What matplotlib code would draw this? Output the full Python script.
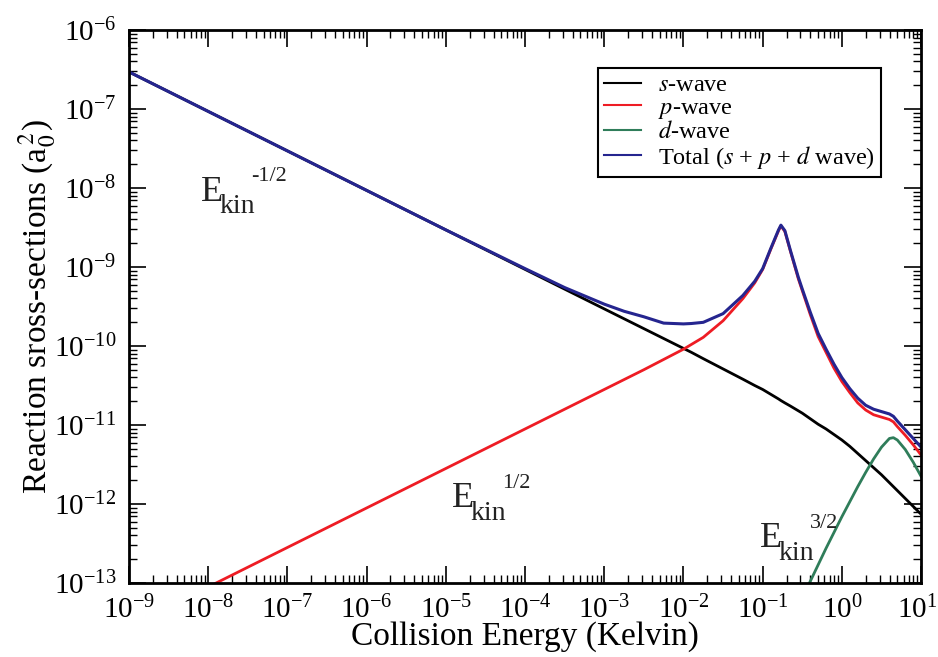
import numpy as np
import matplotlib
matplotlib.use("Agg")
import matplotlib.pyplot as plt
import matplotlib.transforms as mtransforms
from matplotlib.ticker import LogLocator, NullFormatter

plt.rcParams['font.family'] = ['Liberation Serif', 'DejaVu Serif']
plt.rcParams['mathtext.fontset'] = 'stix'
plt.rcParams['axes.unicode_minus'] = False

# ----- DATA (log10 values) -----

log_energy = [-9, -8, -7, -6, -5, -4, -3.5, -3, -2.75, -2.5, -2.25, -2, -1.9, -1.75, -1.5,
              -1.25, -1.1, -1.0, -0.9, -0.8, -0.77, -0.72, -0.65, -0.55, -0.5, -0.4, -0.3,
              -0.2, -0.1, 0, 0.1, 0.2, 0.3, 0.4, 0.5, 0.6, 0.65, 0.7, 0.8, 0.9, 1.0]

log_s_wave = [-6.53, -7.03, -7.53, -8.03, -8.53, -9.03, -9.28, -9.53, -9.655, -9.78, -9.905,
              -10.03, -10.08, -10.16, -10.29, -10.42, -10.50, -10.55, -10.61, -10.67, -10.69,
              -10.72, -10.76, -10.82, -10.85, -10.92, -10.99, -11.05, -11.12, -11.19, -11.27,
              -11.36, -11.45, -11.54, -11.63, -11.73, -11.78, -11.83, -11.93, -12.03, -12.13]

log_p_wave = [-13.55, -13.05, -12.55, -12.05, -11.55, -11.05, -10.80, -10.55, -10.425, -10.30,
              -10.17, -10.04, -9.98, -9.89, -9.68, -9.40, -9.20, -9.03, -8.78, -8.54, -8.48,
              -8.55, -8.80, -9.15, -9.30, -9.60, -9.88, -10.08, -10.28, -10.45, -10.59,
              -10.72, -10.81, -10.87, -10.90, -10.93, -10.96, -11.02, -11.13, -11.25, -11.38]

nan = np.nan
log_d_wave = [nan] * 23 + [-13.28, -13.18, -12.98, -12.77, -12.56, -12.36, -12.16, -11.97,
                            -11.78, -11.60, -11.43, -11.28, -11.17, -11.16, -11.19, -11.31,
                            -11.47, -11.65]

log_total = [-6.53, -7.03, -7.53, -8.03, -8.53, -9.02, -9.26, -9.47, -9.56, -9.63, -9.71,
             -9.72, -9.715, -9.70, -9.59, -9.36, -9.18, -9.02, -8.77, -8.53, -8.47, -8.54,
             -8.79, -9.13, -9.28, -9.57, -9.84, -10.04, -10.23, -10.40, -10.54, -10.66,
             -10.75, -10.80, -10.83, -10.86, -10.89, -10.95, -11.06, -11.17, -11.28]

energy = 10.0 ** np.array(log_energy)
s_wave = 10.0 ** np.array(log_s_wave)
p_wave = 10.0 ** np.array(log_p_wave)
d_wave = 10.0 ** np.array(log_d_wave)
total = 10.0 ** np.array(log_total)

# ----- PLOT -----

fig, ax = plt.subplots(figsize=(9.38, 6.57), dpi=100)
fig.subplots_adjust(left=0.1375, right=0.982, bottom=0.1126, top=0.9543)

ax.plot(energy, s_wave, color="black", lw=2.0, label="$s$-wave")
ax.plot(energy, p_wave, color="#ee1c24", lw=2.0, label="$p$-wave")
ax.plot(energy, d_wave, color="#2f7d5a", lw=2.0, label="$d$-wave")
ax.plot(energy, total, color="#25258f", lw=2.2, label="Total ($s$ + $p$ + $d$ wave)")

ax.set_xscale("log")
ax.set_yscale("log")
ax.set_xlim(1e-9, 1e1)
ax.set_ylim(1e-13, 1e-6)

for axis in (ax.xaxis, ax.yaxis):
    axis.set_major_locator(LogLocator(base=10, numticks=30))
    axis.set_minor_locator(LogLocator(base=10, subs=np.arange(2, 10), numticks=300))
    axis.set_minor_formatter(NullFormatter())

ax.tick_params(which="both", direction="in", top=True, right=True)
ax.tick_params(which="major", length=12, width=1.2, labelsize=21, pad=9)
ax.tick_params(which="minor", length=6, width=1.0)
for sp in ax.spines.values():
    sp.set_linewidth(2)

ax.set_xlabel("Collision Energy (Kelvin)", fontsize=24, labelpad=-2)
ax.set_ylabel("Reaction sross-sections (a$_0^{\\,2}$)", fontsize=24)
ax.yaxis.set_label_coords(-0.09, 0.5)


def ekin_label(x, y, power):
    """E_kin with the power written after the subscript"""
    ax.text(x, y, "E", transform=ax.transAxes, fontsize=26, va="baseline", color="#222222")
    ax.annotate("kin", xy=(x, y), xycoords="axes fraction", xytext=(13.5, -9),
                textcoords="offset points", fontsize=20, va="baseline", color="#222222")
    ax.annotate(power, xy=(x, y), xycoords="axes fraction", xytext=(36, 14),
                textcoords="offset points", fontsize=16, va="baseline", color="#222222")


ekin_label(0.091, 0.691, "-1/2")
ekin_label(0.4075, 0.1374, "1/2")
ekin_label(0.7967, 0.0651, "3/2")

leg = ax.legend(loc="upper right", bbox_to_anchor=(0.949, 0.931), fontsize=17.5,
                fancybox=False, edgecolor="black", borderaxespad=0, handlelength=1.5,
                handletextpad=0.7, labelspacing=0.02, borderpad=0.25, framealpha=1)
leg.get_frame().set_linewidth(1.5)
for line in leg.get_lines():
    line.set_linewidth(1.5)

# nudge the last x tick label so it stays inside the figure
fig.canvas.draw()
for lbl in ax.xaxis.get_majorticklabels():
    if lbl.get_position()[0] >= 9.9:
        lbl.set_transform(lbl.get_transform() + mtransforms.ScaledTranslation(-4 / 100, 0, fig.dpi_scale_trans))

fig.savefig("out.png", dpi=100)
